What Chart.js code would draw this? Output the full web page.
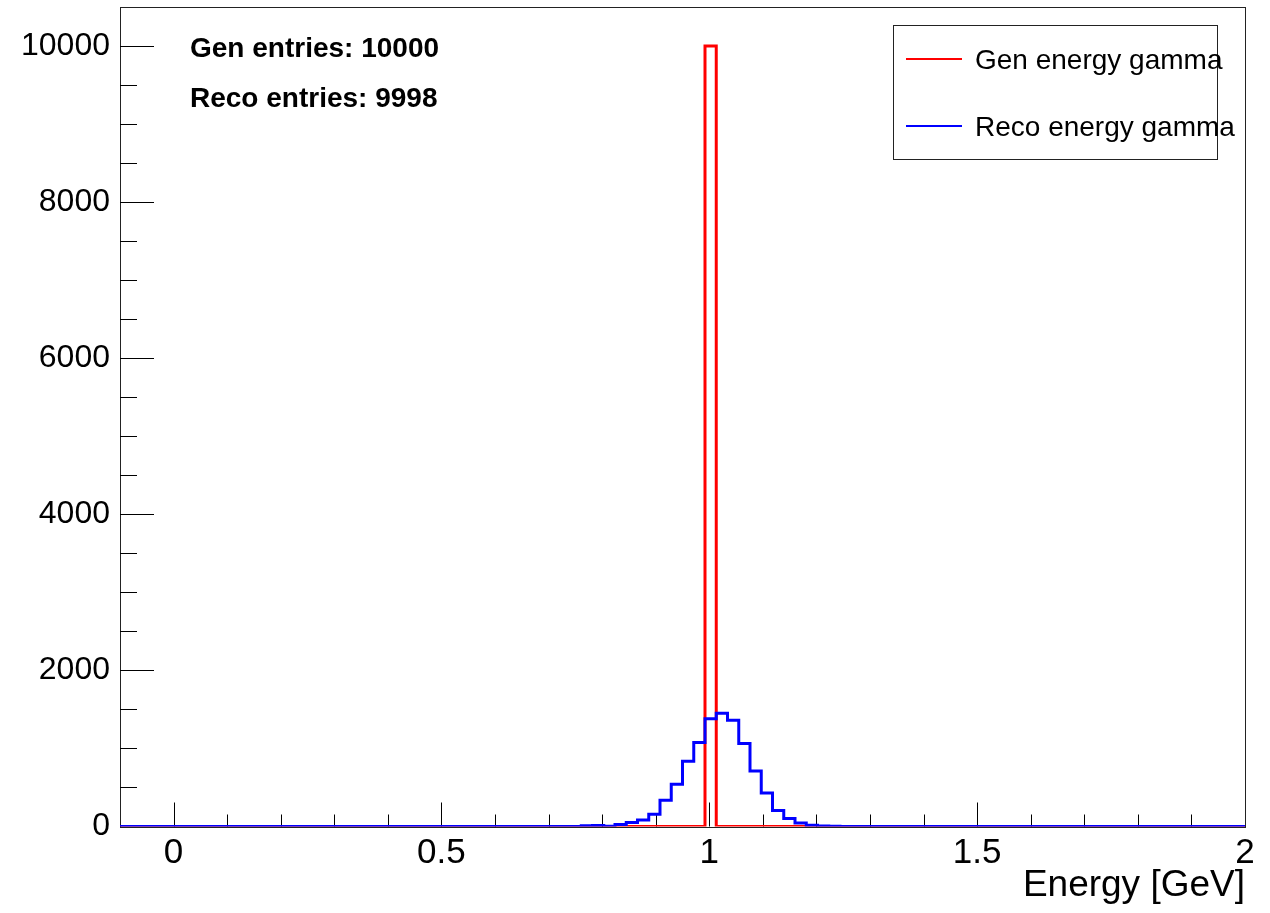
<!DOCTYPE html>
<html>
<head>
<meta charset="utf-8">
<script src="https://cdn.jsdelivr.net/npm/chart.js@4.4.1/dist/chart.umd.min.js"></script>
<style>
  html, body { margin: 0; padding: 0; background: #ffffff; }
  #c { display: block; }
</style>
</head>
<body>
<canvas id="c" width="1270" height="913"></canvas>
<script>
// Histogram binning: 100 bins from -0.1 to 2.0 GeV
const histLow = -0.1;
const histHigh = 2.0;
const nBins = 100;

// Generated photon energy (counts per bin)
const genCounts = [
  0, 0, 0, 0, 0, 0, 0, 0, 0, 0,
  0, 0, 0, 0, 0, 0, 0, 0, 0, 0,
  0, 0, 0, 0, 0, 0, 0, 0, 0, 0,
  0, 0, 0, 0, 0, 0, 0, 0, 0, 0,
  0, 0, 0, 0, 0, 0, 0, 0, 0, 0,
  0, 0, 10000, 0, 0, 0, 0, 0, 0, 0,
  0, 0, 0, 0, 0, 0, 0, 0, 0, 0,
  0, 0, 0, 0, 0, 0, 0, 0, 0, 0,
  0, 0, 0, 0, 0, 0, 0, 0, 0, 0,
  0, 0, 0, 0, 0, 0, 0, 0, 0, 0
];

// Reconstructed photon energy (counts per bin)
const recoCounts = [
  0, 0, 0, 0, 0, 0, 0, 0, 0, 0,
  0, 0, 0, 0, 0, 0, 0, 0, 0, 0,
  0, 0, 0, 0, 0, 0, 0, 0, 0, 0,
  0, 0, 0, 0, 0, 0, 0, 0, 0, 0,
  0, 10, 12, 3, 25, 50, 82, 158, 335, 540,
  836, 1075, 1380, 1450, 1360, 1065, 712, 430, 204, 101,
  44, 15, 6, 2, 0, 0, 0, 0, 0, 0,
  0, 0, 0, 0, 0, 0, 0, 0, 0, 0,
  0, 0, 0, 0, 0, 0, 0, 0, 0, 0,
  0, 0, 0, 0, 0, 0, 0, 0, 0, 0
];

const seriesNames = ['Gen energy gamma', 'Reco energy gamma'];
const seriesColors = ['#ff0000', '#0000ff'];
const entryLabels = ['Gen entries: 10000', 'Reco entries: 9998'];

// Axis ranges and tick labels
const xRange = [-0.1, 2.0];
const yRange = [0, 10500];
const xTickValues = [0, 0.5, 1, 1.5, 2];
const xTickLabels = ['0', '0.5', '1', '1.5', '2'];
const xMinorStep = 0.1;
const yTickValues = [0, 2000, 4000, 6000, 8000, 10000];
const yTickLabels = ['0', '2000', '4000', '6000', '8000', '10000'];
const yMinorStep = 500;
const xAxisTitle = 'Energy [GeV]';

const FONT = '"Liberation Sans", Arial, Helvetica, sans-serif';

// Turn per-bin counts into an outline: one point at each bin's low edge
// (drawn flat across the bin), plus the closing edge of the range
function stepOutline(counts) {
  const w = (histHigh - histLow) / nBins;
  const pts = counts.map((c, i) => ({ x: histLow + i * w, y: c }));
  pts.push({ x: histHigh, y: 0 });
  return pts;
}

// Frame, inward tick marks, entry counts and the boxed legend
const frameTicks = {
  id: 'frameTicks',
  beforeDatasetsDraw(chart) {
    const { ctx, chartArea: a, scales } = chart;
    const xs = scales.x, ys = scales.y;
    const px = v => Math.round(v) + 0.5;
    ctx.save();
    ctx.strokeStyle = '#222222';
    ctx.lineWidth = 1;
    ctx.strokeRect(Math.round(a.left) + 0.5, Math.round(a.top) + 0.5,
                   Math.round(a.right - a.left), Math.round(a.bottom - a.top));
    ctx.strokeStyle = '#000000';
    ctx.beginPath();
    // x axis: major and minor ticks pointing up
    const nx = Math.round((xRange[1] - xRange[0]) / xMinorStep);
    for (let i = 1; i < nx; i++) {
      const v = +(xRange[0] + i * xMinorStep).toFixed(6);
      const isMajor = xTickValues.some(t => Math.abs(t - v) < 1e-6);
      const len = isMajor ? 24 : 12;
      const X = px(xs.getPixelForValue(v));
      ctx.moveTo(X, a.bottom);
      ctx.lineTo(X, a.bottom - len);
    }
    // y axis: major and minor ticks pointing right
    for (let v = yRange[0] + yMinorStep; v < yRange[1]; v += yMinorStep) {
      const isMajor = yTickValues.includes(v);
      const len = isMajor ? 34 : 17;
      const Y = px(ys.getPixelForValue(v));
      ctx.moveTo(a.left, Y);
      ctx.lineTo(a.left + len, Y);
    }
    ctx.stroke();
    ctx.restore();
  },
  afterDraw(chart) {
    const { ctx } = chart;
    ctx.save();
    // entry counts
    ctx.fillStyle = '#000000';
    ctx.font = 'bold 28px ' + FONT;
    ctx.textAlign = 'left';
    ctx.textBaseline = 'alphabetic';
    ctx.fillText(entryLabels[0], 190, 57);
    ctx.fillText(entryLabels[1], 190, 107);

    // legend box
    ctx.strokeStyle = '#222222';
    ctx.lineWidth = 1;
    ctx.strokeRect(893.5, 25.5, 324, 134);
    const rows = [59, 126];
    ctx.font = '28px ' + FONT;
    seriesNames.forEach((name, i) => {
      ctx.strokeStyle = seriesColors[i];
      ctx.lineWidth = 2;
      ctx.beginPath();
      ctx.moveTo(906, rows[i]);
      ctx.lineTo(962, rows[i]);
      ctx.stroke();
      ctx.fillStyle = '#000000';
      ctx.fillText(name, 975, rows[i] + 10);
    });
    ctx.restore();
  }
};

new Chart(document.getElementById('c'), {
  type: 'line',
  data: {
    datasets: [
      {
        label: seriesNames[0],
        data: stepOutline(genCounts),
        borderColor: seriesColors[0],
        borderWidth: 3,
        stepped: 'before',
        pointRadius: 0,
        fill: false,
        order: 2
      },
      {
        label: seriesNames[1],
        data: stepOutline(recoCounts),
        borderColor: seriesColors[1],
        borderWidth: 3,
        stepped: 'before',
        pointRadius: 0,
        fill: false,
        order: 1
      }
    ]
  },
  options: {
    responsive: false,
    animation: false,
    devicePixelRatio: 1,
    layout: { padding: { top: 7, right: 25, left: 0, bottom: 0 } },
    plugins: {
      legend: { display: false },
      tooltip: { enabled: false }
    },
    scales: {
      x: {
        type: 'linear',
        min: xRange[0],
        max: xRange[1],
        grid: { display: false, drawTicks: false },
        border: { display: false },
        afterBuildTicks: s => { s.ticks = xTickValues.map(v => ({ value: v })); },
        afterFit: s => { s.height = 86.5; s.paddingLeft = 0; s.paddingRight = 0; },
        ticks: {
          autoSkip: false,
          maxRotation: 0,
          padding: 6,
          color: '#000000',
          font: { family: FONT, size: 35 },
          callback: v => xTickLabels[xTickValues.indexOf(v)]
        },
        title: {
          display: true,
          text: xAxisTitle,
          align: 'end',
          color: '#000000',
          font: { family: FONT, size: 37 },
          padding: { top: 0, bottom: 5 }
        }
      },
      y: {
        type: 'linear',
        min: yRange[0],
        max: yRange[1],
        grid: { display: false, drawTicks: false },
        border: { display: false },
        afterBuildTicks: s => { s.ticks = yTickValues.map(v => ({ value: v })); },
        afterFit: s => { s.width = 120; s.paddingTop = 0; s.paddingBottom = 0; },
        ticks: {
          autoSkip: false,
          padding: 10,
          color: '#000000',
          font: { family: FONT, size: 32 },
          callback: v => yTickLabels[yTickValues.indexOf(v)]
        }
      }
    }
  },
  plugins: [frameTicks]
});
</script>
</body>
</html>
